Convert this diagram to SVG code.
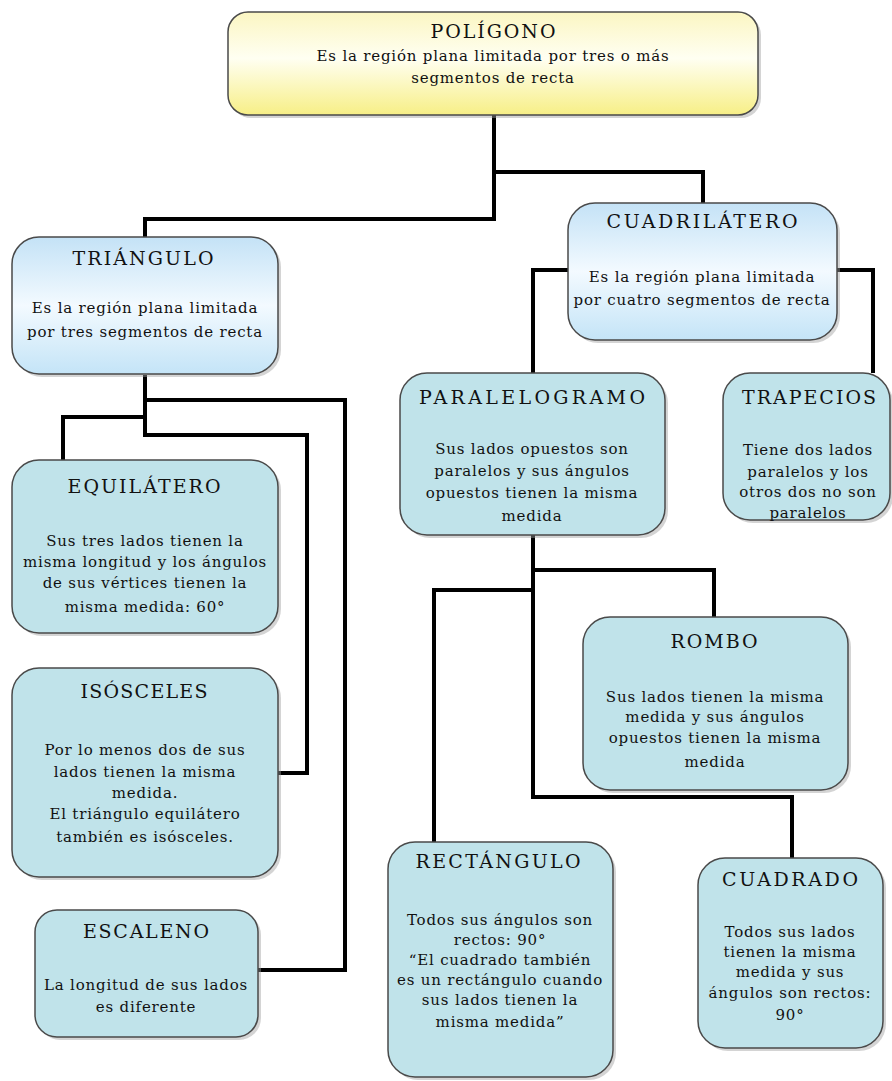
<svg xmlns="http://www.w3.org/2000/svg" width="892" height="1081" viewBox="0 0 892 1081">
<defs>
<linearGradient id="gy" x1="0" y1="0" x2="0" y2="1">
<stop offset="0" stop-color="#fbf6c2"/><stop offset="0.45" stop-color="#fffff2"/><stop offset="1" stop-color="#f7ef86"/>
</linearGradient>
<linearGradient id="gb" x1="0" y1="0" x2="0" y2="1">
<stop offset="0" stop-color="#c4e2f6"/><stop offset="0.5" stop-color="#f3faff"/><stop offset="1" stop-color="#c4e4f7"/>
</linearGradient>
</defs>
<style>
.box{stroke:#4a4a4a;stroke-width:1.5}
.sh{fill:#a0a0a0;opacity:0.45}
.plain{fill:#c0e3ea}
.t{font-family:"DejaVu Serif","Liberation Serif",serif;font-size:19px;fill:#111;text-anchor:middle}
.b{font-family:"DejaVu Serif","Liberation Serif",serif;font-size:15px;letter-spacing:0.8px;fill:#111;text-anchor:middle}
.c{fill:none;stroke:#000;stroke-width:4;stroke-linejoin:miter}
</style>
<rect width="892" height="1081" fill="#fff"/>
<g id="connectors">
<path class="c" d="M494,115 V219"/>
<path class="c" d="M494,172 H703 V203"/>
<path class="c" d="M145,237 V219 H496"/>
<path class="c" d="M568,270 H533 V373"/>
<path class="c" d="M837,270 H873 V373"/>
<path class="c" d="M145,375 V435 H307 V773 H278"/>
<path class="c" d="M145,400 H345 V970 H258"/>
<path class="c" d="M145,417 H63 V460"/>
<path class="c" d="M533,535 V797 H792 V858"/>
<path class="c" d="M533,570 H714 V617"/>
<path class="c" d="M533,590 H434 V842"/>
</g>
<g id="poligono">
<rect class="sh" x="231" y="15" width="530" height="103" rx="20"/>
<rect class="box" x="228" y="12" width="530" height="103" rx="20" fill="url(#gy)"/>
<text class="t" x="493" y="38" textLength="125" lengthAdjust="spacing">POLÍGONO</text>
<text class="b" x="493" y="61">Es la región plana limitada por tres o más</text>
<text class="b" x="493" y="83">segmentos de recta</text>
</g>
<g id="triangulo">
<rect class="sh" x="15" y="240" width="266" height="137" rx="27"/>
<rect class="box" x="12" y="237" width="266" height="137" rx="27" fill="url(#gb)"/>
<text class="t" x="143" y="265" textLength="141" lengthAdjust="spacing">TRIÁNGULO</text>
<text class="b" x="145" y="313">Es la región plana limitada</text>
<text class="b" x="145" y="337">por tres segmentos de recta</text>
</g>
<g id="cuadrilatero">
<rect class="sh" x="571" y="206" width="269" height="137" rx="27"/>
<rect class="box" x="568" y="203" width="269" height="137" rx="27" fill="url(#gb)"/>
<text class="t" x="702" y="228" textLength="191" lengthAdjust="spacing">CUADRILÁTERO</text>
<text class="b" x="702" y="282">Es la región plana limitada</text>
<text class="b" x="702" y="305">por cuatro segmentos de recta</text>
</g>
<g id="equilatero">
<rect class="sh" x="15" y="463" width="266" height="173" rx="27"/>
<rect class="box plain" x="12" y="460" width="266" height="173" rx="27"/>
<text class="t" x="144" y="493" textLength="153" lengthAdjust="spacing">EQUILÁTERO</text>
<text class="b" x="145" y="546">Sus tres lados tienen  la</text>
<text class="b" x="145" y="567">misma longitud y los ángulos</text>
<text class="b" x="145" y="588">de sus vértices tienen la</text>
<text class="b" x="145" y="612">misma medida: 60°</text>
</g>
<g id="isosceles">
<rect class="sh" x="15" y="671" width="266" height="209" rx="27"/>
<rect class="box plain" x="12" y="668" width="266" height="209" rx="27"/>
<text class="t" x="144" y="698" textLength="127" lengthAdjust="spacing">ISÓSCELES</text>
<text class="b" x="145" y="755">Por lo menos dos de sus</text>
<text class="b" x="145" y="777">lados tienen la misma</text>
<text class="b" x="145" y="798">medida.</text>
<text class="b" x="145" y="819">El triángulo equilátero</text>
<text class="b" x="145" y="842">también es isósceles.</text>
</g>
<g id="escaleno">
<rect class="sh" x="38" y="913" width="223" height="127" rx="22"/>
<rect class="box plain" x="35" y="910" width="223" height="127" rx="22"/>
<text class="t" x="146" y="938" textLength="126" lengthAdjust="spacing">ESCALENO</text>
<text class="b" x="146" y="990">La longitud de sus lados</text>
<text class="b" x="146" y="1012">es diferente</text>
</g>
<g id="paralelogramo">
<rect class="sh" x="403" y="376" width="265" height="162" rx="27"/>
<rect class="box plain" x="400" y="373" width="265" height="162" rx="27"/>
<text class="t" x="532" y="404" textLength="226" lengthAdjust="spacing">PARALELOGRAMO</text>
<text class="b" x="532" y="454">Sus lados opuestos son</text>
<text class="b" x="532" y="476">paralelos y sus ángulos</text>
<text class="b" x="532" y="498">opuestos tienen la misma</text>
<text class="b" x="532" y="521">medida</text>
</g>
<g id="trapecios">
<rect class="sh" x="726" y="376" width="167" height="147" rx="27"/>
<rect class="box plain" x="723" y="373" width="167" height="147" rx="27"/>
<text class="t" x="809" y="404" textLength="134" lengthAdjust="spacing">TRAPECIOS</text>
<text class="b" x="808" y="455">Tiene dos lados</text>
<text class="b" x="808" y="477">paralelos y los</text>
<text class="b" x="808" y="497">otros dos no son</text>
<text class="b" x="808" y="518">paralelos</text>
</g>
<g id="rombo">
<rect class="sh" x="586" y="620" width="265" height="173" rx="27"/>
<rect class="box plain" x="583" y="617" width="265" height="173" rx="27"/>
<text class="t" x="714" y="648" textLength="87" lengthAdjust="spacing">ROMBO</text>
<text class="b" x="715" y="702">Sus lados tienen la misma</text>
<text class="b" x="715" y="722">medida y sus ángulos</text>
<text class="b" x="715" y="743">opuestos tienen la misma</text>
<text class="b" x="715" y="767">medida</text>
</g>
<g id="rectangulo">
<rect class="sh" x="391" y="845" width="225" height="235" rx="27"/>
<rect class="box plain" x="388" y="842" width="225" height="235" rx="27"/>
<text class="t" x="498" y="868" textLength="165" lengthAdjust="spacing">RECTÁNGULO</text>
<text class="b" x="500" y="925">Todos sus ángulos son</text>
<text class="b" x="500" y="945">rectos: 90°</text>
<text class="b" x="500" y="965">“El cuadrado también</text>
<text class="b" x="500" y="985">es un rectángulo cuando</text>
<text class="b" x="500" y="1005">sus lados tienen la</text>
<text class="b" x="500" y="1027">misma medida”</text>
</g>
<g id="cuadrado">
<rect class="sh" x="701" y="861" width="185" height="190" rx="27"/>
<rect class="box plain" x="698" y="858" width="185" height="190" rx="27"/>
<text class="t" x="790" y="886" textLength="136" lengthAdjust="spacing">CUADRADO</text>
<text class="b" x="790" y="937">Todos sus lados</text>
<text class="b" x="790" y="957">tienen la misma</text>
<text class="b" x="790" y="977">medida y sus</text>
<text class="b" x="790" y="998">ángulos son rectos:</text>
<text class="b" x="790" y="1020">90°</text>
</g>
</svg>
